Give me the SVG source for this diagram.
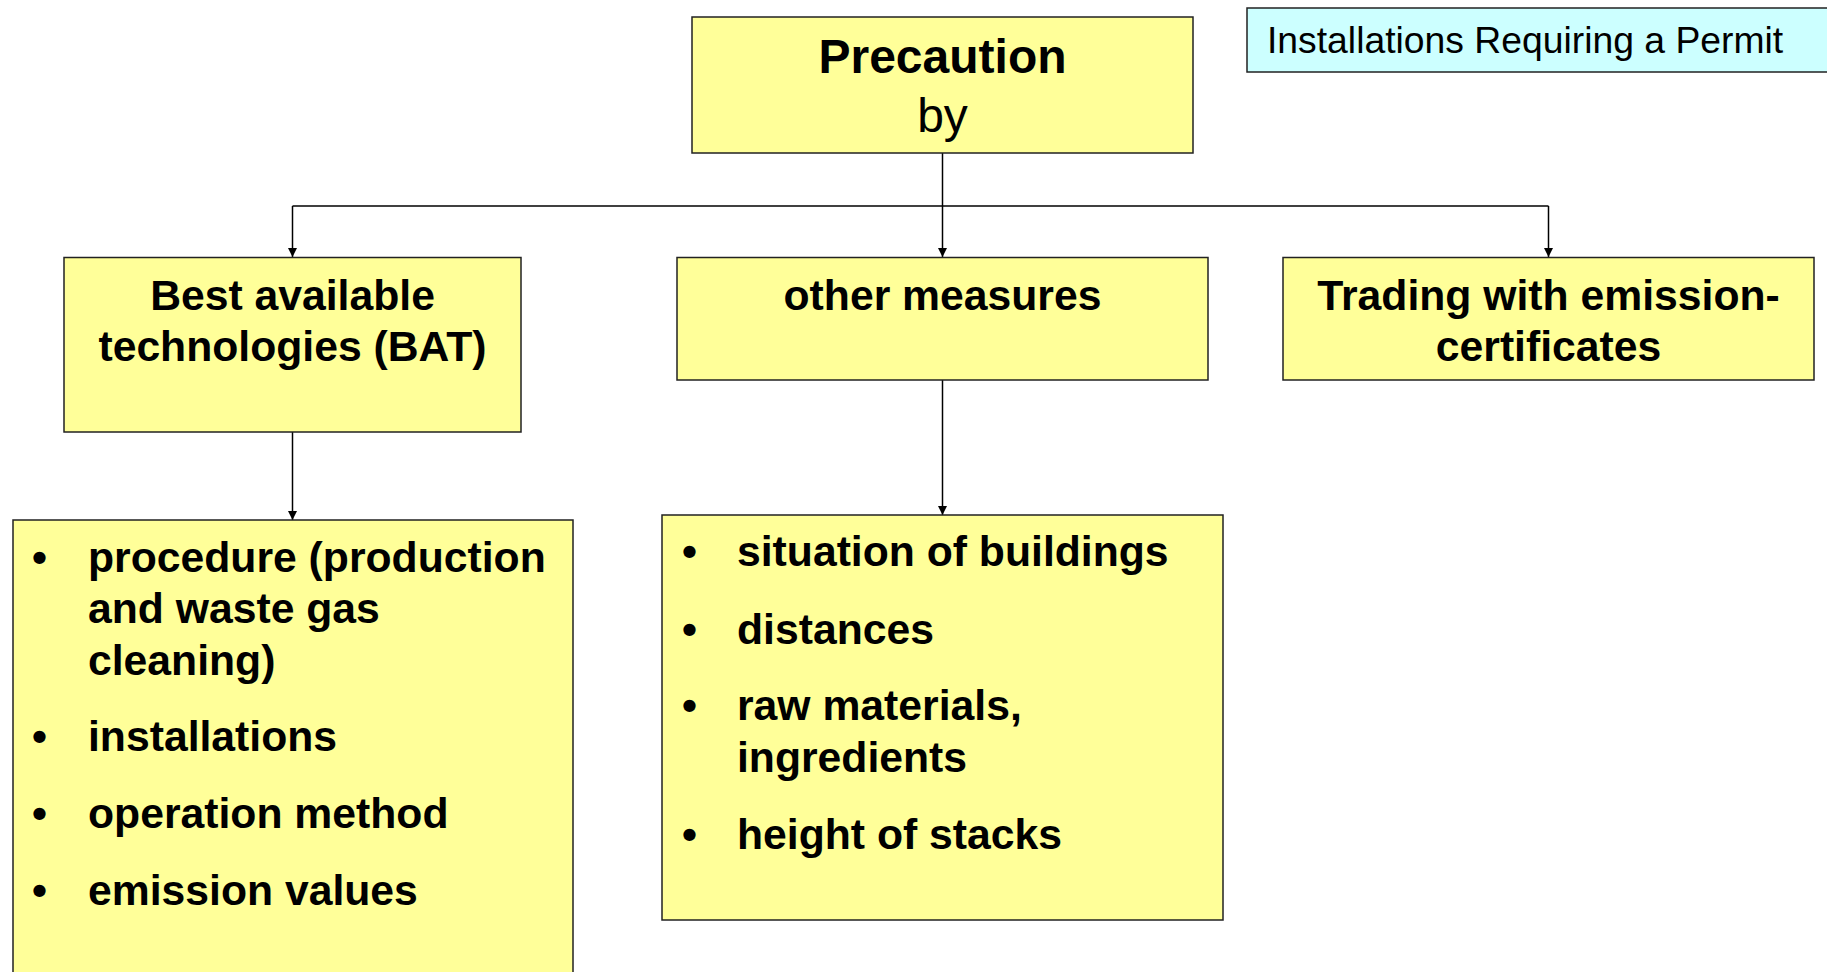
<svg xmlns="http://www.w3.org/2000/svg" width="1827" height="972" viewBox="0 0 1827 972">
<style>
.box{fill:#FFFF99;stroke:#222;stroke-width:1.5}
.cyan{fill:#CCFFFF;stroke:#222;stroke-width:1.5}
.t{font-family:"Liberation Sans",Arial,sans-serif;fill:#000}
.b{font-weight:bold;font-size:42.7px}
.c{text-anchor:middle}
.ln{stroke:#000;stroke-width:1.5;fill:none}
</style>
<defs>
<marker id="ah" viewBox="0 0 10 10" refX="10" refY="5" markerWidth="9" markerHeight="10" markerUnits="userSpaceOnUse" orient="auto">
<path d="M0,0 L10,5 L0,10 z" fill="#000"/>
</marker>
</defs>
<rect width="1827" height="972" fill="#fff"/>
<g id="connectors">
<line class="ln" x1="942.5" y1="153" x2="942.5" y2="257" marker-end="url(#ah)"/>
<line class="ln" x1="292.5" y1="206" x2="1548.5" y2="206"/>
<line class="ln" x1="292.5" y1="206" x2="292.5" y2="257" marker-end="url(#ah)"/>
<line class="ln" x1="1548.5" y1="206" x2="1548.5" y2="257" marker-end="url(#ah)"/>
<line class="ln" x1="292.5" y1="432" x2="292.5" y2="520" marker-end="url(#ah)"/>
<line class="ln" x1="942.5" y1="380" x2="942.5" y2="515" marker-end="url(#ah)"/>
</g>
<g id="permit">
<rect class="cyan" x="1247" y="8" width="600" height="64"/>
<text class="t" x="1267" y="53" font-size="37.3">Installations Requiring a Permit</text>
</g>
<g id="precaution">
<rect class="box" x="692" y="17" width="501" height="136"/>
<text class="t c" x="942.5" y="73" font-size="48" font-weight="bold">Precaution</text>
<text class="t c" x="942.5" y="132" font-size="48">by</text>
</g>
<g id="bat">
<rect class="box" x="64" y="257.5" width="457" height="174.5"/>
<text class="t b c" x="292.5" y="310">Best available</text>
<text class="t b c" x="292.5" y="361">technologies (BAT)</text>
</g>
<g id="other">
<rect class="box" x="677" y="257.5" width="531" height="122.5"/>
<text class="t b c" x="942.5" y="310">other measures</text>
</g>
<g id="trading">
<rect class="box" x="1283" y="257.5" width="531" height="122.5"/>
<text class="t b c" x="1548.5" y="310">Trading with emission-</text>
<text class="t b c" x="1548.5" y="361">certificates</text>
</g>
<g id="bat-list">
<rect class="box" x="13" y="520" width="560" height="470"/>
<g class="t b">
<text x="32" y="572">•</text><text x="88" y="572">procedure (production</text>
<text x="88" y="623">and waste gas</text>
<text x="88" y="675">cleaning)</text>
<text x="32" y="751">•</text><text x="88" y="751">installations</text>
<text x="32" y="828">•</text><text x="88" y="828">operation method</text>
<text x="32" y="905">•</text><text x="88" y="905">emission values</text>
</g>
</g>
<g id="other-list">
<rect class="box" x="662" y="515" width="561" height="405"/>
<g class="t b">
<text x="682" y="566">•</text><text x="737" y="566">situation of buildings</text>
<text x="682" y="644">•</text><text x="737" y="644">distances</text>
<text x="682" y="720">•</text><text x="737" y="720">raw materials,</text>
<text x="737" y="772">ingredients</text>
<text x="682" y="849">•</text><text x="737" y="849">height of stacks</text>
</g>
</g>
</svg>
